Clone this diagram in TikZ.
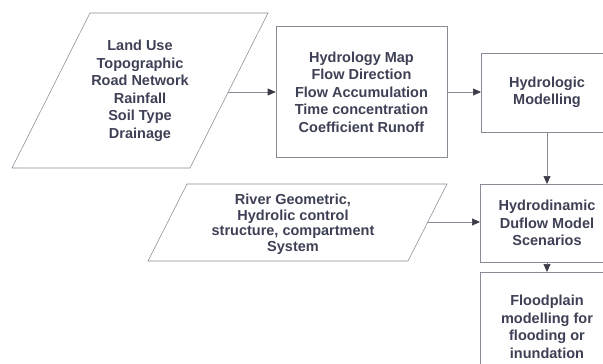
\documentclass[tikz,border=0pt]{standalone}
\usepackage{fontspec}
\setmainfont{Liberation Sans}
\usetikzlibrary{arrows.meta}
\definecolor{txt}{HTML}{3E4155}
\definecolor{ln}{HTML}{8A8A96}
\definecolor{arrc}{HTML}{3A3A48}
\begin{document}
\begin{tikzpicture}[x=1pt,y=-1pt,
  lbl/.style={text=txt, font=\bfseries\fontsize{14.5}{17.5}\selectfont, align=center, inner sep=0pt},
  box/.style={lbl, draw=ln, line width=0.55pt, fill=white},
  frame/.style={draw=ln, line width=0.55pt, fill=white, inner sep=0pt, anchor=north west},
  para/.style={draw=ln, line width=0.55pt},
  arr/.style={draw=ln, line width=0.7pt, -{Triangle[length=8pt,width=7pt,color=arrc]}}]
\useasboundingbox (0,0) rectangle (603,364);
\clip (0,0) rectangle (603,364);
% input parallelogram 1
\draw[para] (90,13) -- (268,13) -- (190,168) -- (12,168) -- cycle;
\node[lbl] (p1) at (140,91) {Land Use\\Topographic\\Road Network\\Rainfall\\Soil Type\\Drainage};
\coordinate (p1r) at (228,92);
% input parallelogram 2
\draw[para] (187,184) -- (447,184) -- (408,261) -- (148,261) -- cycle;
\node[lbl, font=\bfseries\fontsize{14.5}{15.5}\selectfont] (p2) at (293,224) {River Geometric,\\Hydrolic control\\structure, compartment\\System};
\coordinate (p2r) at (427,222);
% boxes
\node[box, minimum width=171pt, minimum height=131pt] (b2) at (361.5,92) {Hydrology Map\\Flow Direction\\Flow Accumulation\\Time concentration\\Coefficient Runoff};
\node[frame, minimum width=170pt, minimum height=79pt] (b3) at (481,53) {};
\node[lbl] (t3) at (547,92.5) {Hydrologic\\Modelling};
\node[frame, minimum width=170pt, minimum height=78pt] (b4) at (480,184) {};
\node[lbl] (t4) at (547,223) {Hydrodinamic\\Duflow Model\\Scenarios};
\node[frame, minimum width=170pt, minimum height=110pt] (b5) at (480,272) {};
\node[lbl] (t5) at (547,327) {Floodplain\\modelling for\\flooding or\\inundation};
% connectors
\draw[arr] (p1r) -- (p1r -| b2.west);
\draw[arr] (b2.east) -- (b2.east -| b3.west);
\draw[arr] (t3.center |- b3.south) -- (t3.center |- b4.north);
\draw[arr] (p2r) -- (p2r -| b4.west);
\draw[arr] (t4.center |- b4.south) -- (t4.center |- b5.north);
\end{tikzpicture}
\end{document}
